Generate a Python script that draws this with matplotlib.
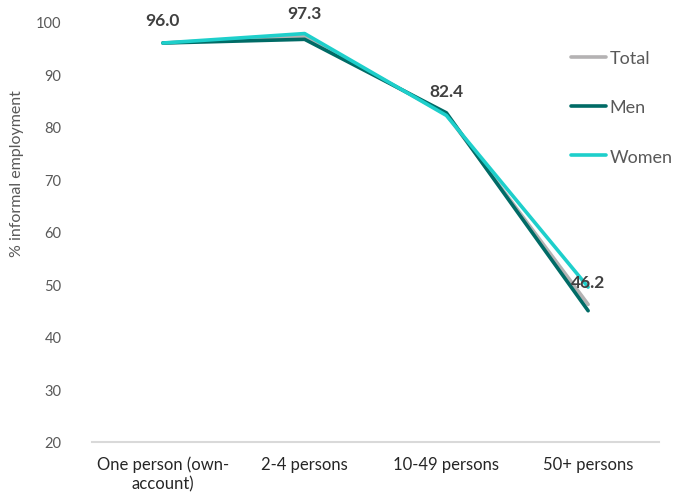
import matplotlib.pyplot as plt

categories = ['One person (own-\naccount)', '2-4 persons', '10-49 persons', '50+ persons']
total = [96.0, 97.3, 82.4, 46.2]
men = [96.0, 96.7, 82.7, 45.0]
women = [96.0, 97.8, 82.2, 49.5]
labels_total = ['96.0', '97.3', '82.4', '46.2']

plt.rcParams['font.family'] = ['Lato', 'DejaVu Sans']

fig = plt.figure(figsize=(6.74, 5.02), dpi=100)
ax = fig.add_axes([92 / 674, 59 / 502, 567 / 674, 420 / 502])

x = list(range(len(categories)))
ax.plot(x, total, color='#B4B2B3', lw=2.6, label='Total', solid_capstyle='round', clip_on=False)
ax.plot(x, men, color='#006B66', lw=2.6, label='Men', solid_capstyle='round', clip_on=False)
ax.plot(x, women, color='#1ECFCB', lw=2.6, label='Women', solid_capstyle='round', clip_on=False)

for xi, yi, t in zip(x, total, labels_total):
    ax.annotate(t, (xi, yi), xytext=(0, 16.5), textcoords='offset points',
                ha='center', va='center', fontsize=12.5, fontweight='bold', color='#404040')

ax.set_xlim(-0.5, 3.5)
ax.set_ylim(20, 100)
ax.set_yticks(range(20, 101, 10))
ax.set_xticks(x)
ax.set_xticklabels(categories, fontsize=12, color='#262626')
ax.tick_params(axis='y', labelsize=10.5, labelcolor='#595959', length=0, pad=22)
ax.tick_params(axis='x', length=0, pad=10)
for s in ['top', 'right', 'left']:
    ax.spines[s].set_visible(False)
ax.spines['bottom'].set_color('#D9D9D9')
ax.spines['bottom'].set_linewidth(1.5)

fig.text(17 / 674, 1 - 174 / 502, '% informal employment', rotation=90,
         ha='center', va='center', fontsize=11.5, color='#595959')

ax.legend(loc='upper left', bbox_to_anchor=(571 / 674, 1 - 51 / 502), bbox_transform=fig.transFigure,
          frameon=False, fontsize=13, handlelength=1.95, handletextpad=0.2,
          labelspacing=1.85, borderpad=0, borderaxespad=0, labelcolor='#595959')

plt.savefig('out.png')
plt.close()
